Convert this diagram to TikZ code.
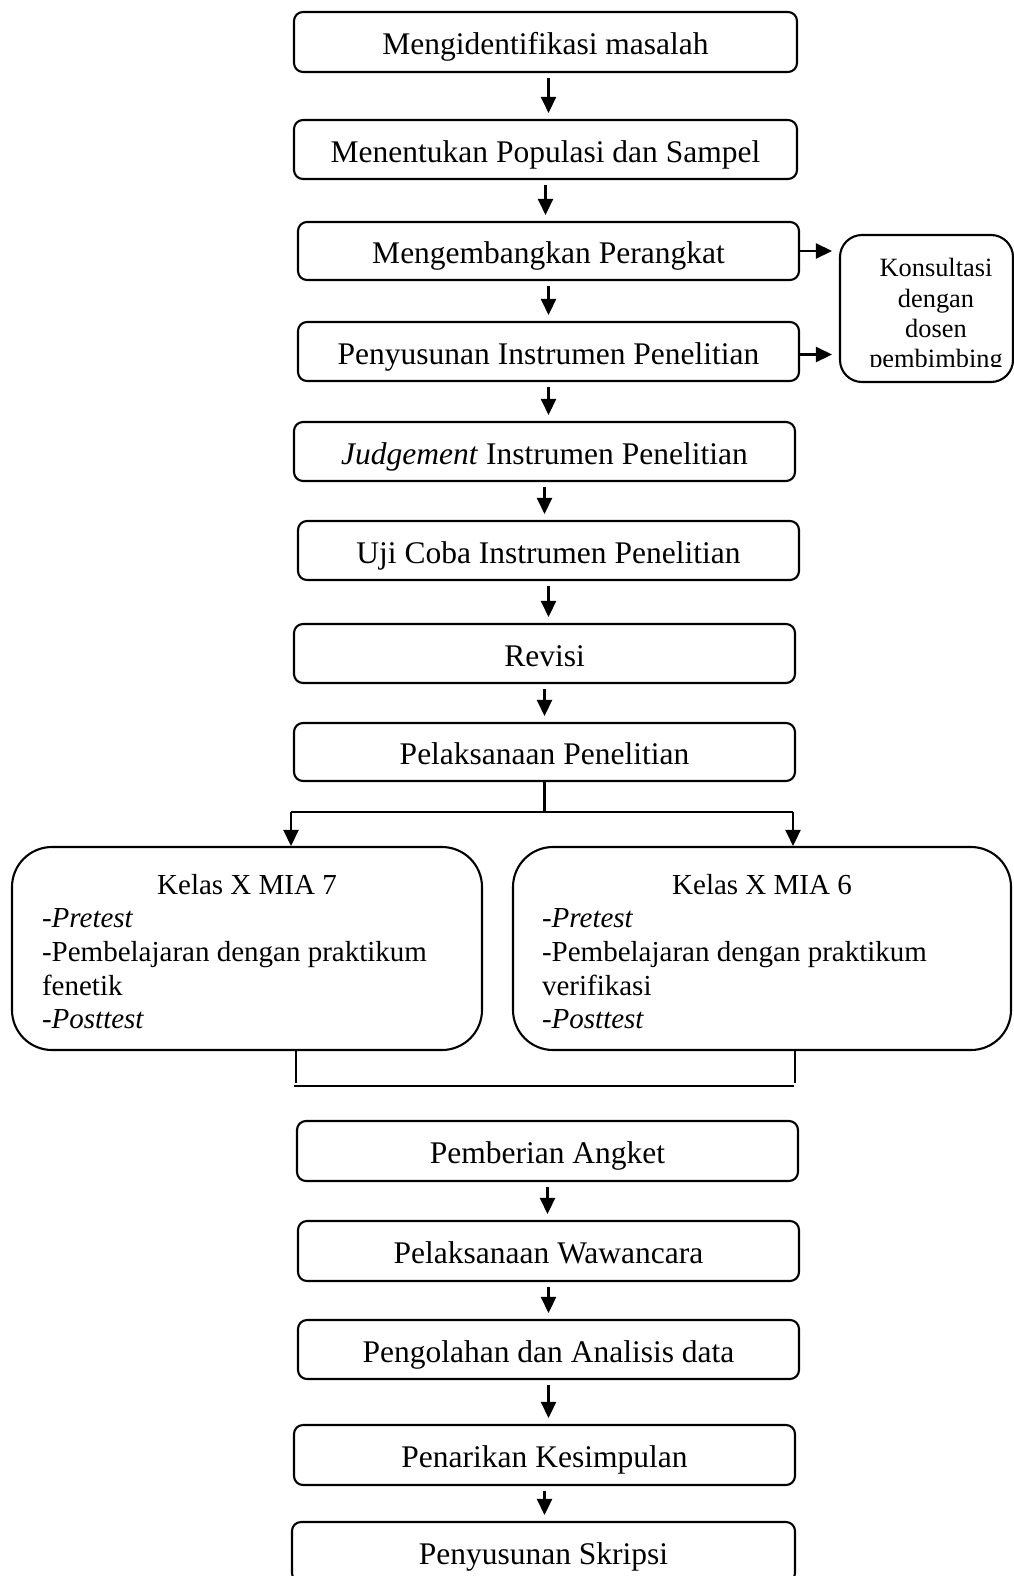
\documentclass[tikz,border=0pt]{standalone}
\usepackage{fontspec}
\setmainfont{Liberation Serif}
\usetikzlibrary{arrows.meta}
\begin{document}
\begin{tikzpicture}[x=1pt,y=-1pt,
  line width=2.1pt,
  box/.style={draw, rounded corners=9pt, inner sep=0pt, align=center,
    font=\fontsize{31.5}{38}\selectfont, text height=26pt, text depth=1pt},
  bigbox/.style={draw, rounded corners=40pt, inner sep=0pt},
  kbox/.style={draw, rounded corners=22pt, inner sep=0pt, minimum width=173pt, minimum height=147pt},
  arr/.style={line width=2.5pt, -{Triangle[length=16pt,width=15pt]}},
  varr/.style={arr, shorten <=5pt, shorten >=6pt},
  mtxt/.style={inner sep=0pt, font=\fontsize{29}{34}\selectfont},
  ktxt/.style={inner sep=0pt, anchor=base, font=\fontsize{26.4}{30}\selectfont},
  ]
\useasboundingbox (0,0) rectangle (1014,1576);
\clip (0,0) rectangle (1014,1576);

\node[box, minimum width=503pt, minimum height=60pt] (b1) at (545.5,42) {Mengidentifikasi masalah};
\node[box, minimum width=503pt, minimum height=59pt] (b2) at (545.5,149.5) {Menentukan Populasi dan Sampel};
\node[box, minimum width=501pt, minimum height=58pt] (b3) at (548.5,251) {Mengembangkan Perangkat};
\node[box, minimum width=501pt, minimum height=59pt] (b4) at (548.5,351.5) {Penyusunan Instrumen Penelitian};
\node[box, minimum width=501pt, minimum height=59pt] (b5) at (544.5,451.5) {\textit{Judgement} Instrumen Penelitian};
\node[box, minimum width=501pt, minimum height=59pt] (b6) at (548.5,550.5) {Uji Coba Instrumen Penelitian};
\node[box, minimum width=501pt, minimum height=59pt] (b7) at (544.5,653.5) {Revisi};
\node[box, minimum width=501pt, minimum height=58pt] (b8) at (544.5,752) {Pelaksanaan Penelitian};
\node[box, minimum width=501pt, minimum height=60pt] (b9) at (547.5,1151) {Pemberian Angket};
\node[box, minimum width=501pt, minimum height=60pt] (b10) at (548.5,1251) {Pelaksanaan Wawancara};
\node[box, minimum width=501pt, minimum height=59pt] (b11) at (548.5,1349.5) {Pengolahan dan Analisis data};
\node[box, minimum width=501pt, minimum height=60pt] (b12) at (544.5,1455) {Penarikan Kesimpulan};
\node[box, minimum width=503pt, minimum height=60pt] (b13) at (543.5,1552) {Penyusunan Skripsi};

% Konsultasi box
\node[kbox] (k) at (926.5,308.5) {};
\begin{scope}
\clip (840,233) rectangle (1014,366);
\node[ktxt] (k1) at (936,276) {Konsultasi};
\node[ktxt] (k2) at (936,307) {dengan};
\node[ktxt] (k3) at (936,337) {dosen};
\node[ktxt] (k4) at (936,367) {pembimbing};
\end{scope}

% MIA boxes
\node[bigbox, minimum width=470pt, minimum height=203pt] (m7) at (247,948.5) {};
\node[bigbox, minimum width=498pt, minimum height=203pt] (m6) at (762,948.5) {};
\node[mtxt, anchor=base] (m7t) at (247,894) {Kelas X MIA 7};
\node[mtxt, anchor=base west] (m7a) at (41,927) {-\textit{Pretest}};
\node[mtxt, anchor=base west] (m7b) at (41,961) {-Pembelajaran dengan praktikum};
\node[mtxt, anchor=base west] (m7c) at (41,995) {fenetik};
\node[mtxt, anchor=base west] (m7d) at (41,1028) {-\textit{Posttest}};
\node[mtxt, anchor=base] (m6t) at (762,894) {Kelas X MIA 6};
\node[mtxt, anchor=base west] (m6a) at (541,927) {-\textit{Pretest}};
\node[mtxt, anchor=base west] (m6b) at (541,961) {-Pembelajaran dengan praktikum};
\node[mtxt, anchor=base west] (m6c) at (541,995) {verifikasi};
\node[mtxt, anchor=base west] (m6d) at (541,1028) {-\textit{Posttest}};

% vertical arrows
\draw[varr] ([xshift=3pt]b1.south) -- ([xshift=3pt]b1.south |- b2.north);
\foreach \a/\b in {b2/b3,b3/b4,b4/b5,b5/b6,b6/b7,b7/b8,b9/b10,b10/b11,b11/b12,b12/b13}
  \draw[varr] (\a.south) -- (\a.south |- \b.north);

% to Konsultasi
\draw[arr, shorten >=7pt] (b3.east) -- (b3.east -| k.west);
\draw[arr, shorten >=7pt] ([yshift=-3pt]b4.east) -- ([yshift=-3pt]b4.east -| k.west);

% branch
\coordinate (j) at (544.5,812);
\coordinate (jl) at (291,812);
\coordinate (jr) at (793,812);
\draw (b8.south) -- (j);
\draw (jl) -- (jr);
\draw[arr] (jl) -- (jl |- m7.north);
\draw[arr] (jr) -- (jr |- m6.north);

% merge lines
\coordinate (vl) at (296,1083);
\coordinate (vr) at (795,1083);
\coordinate (hl) at (294,1086);
\coordinate (hr) at (794,1086);
\draw (vl |- m7.south) -- (vl);
\draw (vr |- m6.south) -- (vr);
\draw (hl) -- (hr);
\end{tikzpicture}
\end{document}
